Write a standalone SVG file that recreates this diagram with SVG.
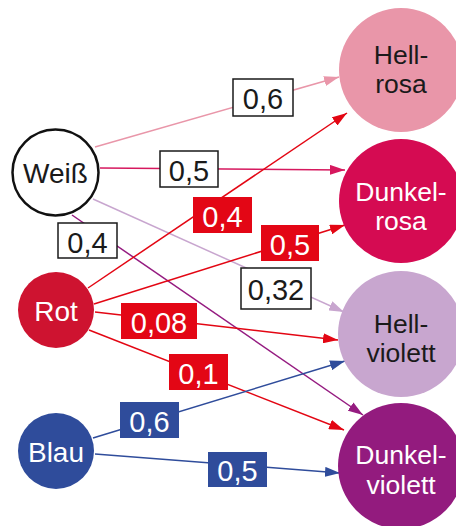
<svg xmlns="http://www.w3.org/2000/svg" width="456" height="526" viewBox="0 0 456 526">
<style>
text{font-family:"Liberation Sans",Arial,Helvetica,sans-serif;text-anchor:middle}
.nl{font-size:28px}
.nr{font-size:26.5px}
.lb{font-size:29px}
.ln{fill:none;stroke-width:1.5}
.wb{fill:#fff;stroke:#1a1a1a;stroke-width:1.5}
.rb{fill:#E30615}
.bb{fill:#2F4C9B}
.blk{fill:#1a1a1a}
.wht{fill:#fff}
</style>
<defs>
<marker id="aHR" viewBox="0 0 15 10" refX="15" refY="5" markerWidth="15" markerHeight="10" markerUnits="userSpaceOnUse" orient="auto"><path d="M0,0L15,5L0,10z" fill="#E996A9"/></marker>
<marker id="aDR" viewBox="0 0 15 10" refX="15" refY="5" markerWidth="15" markerHeight="10" markerUnits="userSpaceOnUse" orient="auto"><path d="M0,0L15,5L0,10z" fill="#D6185E"/></marker>
<marker id="aHV" viewBox="0 0 15 10" refX="15" refY="5" markerWidth="15" markerHeight="10" markerUnits="userSpaceOnUse" orient="auto"><path d="M0,0L15,5L0,10z" fill="#C8A6CF"/></marker>
<marker id="aDV" viewBox="0 0 15 10" refX="15" refY="5" markerWidth="15" markerHeight="10" markerUnits="userSpaceOnUse" orient="auto"><path d="M0,0L15,5L0,10z" fill="#951B80"/></marker>
<marker id="aR" viewBox="0 0 15 10" refX="15" refY="5" markerWidth="15" markerHeight="10" markerUnits="userSpaceOnUse" orient="auto"><path d="M0,0L15,5L0,10z" fill="#E30613"/></marker>
<marker id="aB" viewBox="0 0 15 10" refX="15" refY="5" markerWidth="15" markerHeight="10" markerUnits="userSpaceOnUse" orient="auto"><path d="M0,0L15,5L0,10z" fill="#2F4C9B"/></marker>
</defs>
<rect width="456" height="526" fill="#fff"/>
<g id="connectors">
<path class="ln" d="M95,147L339,77" stroke="#E996A9" marker-end="url(#aHR)"/>
<path class="ln" d="M100,168L345,170" stroke="#D6185E" marker-end="url(#aDR)"/>
<path class="ln" d="M93,199L344,312" stroke="#C8A6CF" marker-end="url(#aHV)"/>
<path class="ln" d="M72,215L363,415" stroke="#951B80" marker-end="url(#aDV)"/>
<path class="ln" d="M88,288L347,113" stroke="#E30613" marker-end="url(#aR)"/>
<path class="ln" d="M94,304L345,225" stroke="#E30613" marker-end="url(#aR)"/>
<path class="ln" d="M95,312L338,340" stroke="#E30613" marker-end="url(#aR)"/>
<path class="ln" d="M89,330L344,430" stroke="#E30613" marker-end="url(#aR)"/>
<path class="ln" d="M93,438L345,361" stroke="#2F4C9B" marker-end="url(#aB)"/>
<path class="ln" d="M95,454L340,473" stroke="#2F4C9B" marker-end="url(#aB)"/>
<g id="labels">
<rect class="wb" x="233" y="79" width="60" height="37"/><text class="lb blk" x="263" y="109">0,6</text>
<rect class="wb" x="160" y="151" width="58" height="36"/><text class="lb blk" x="189" y="181">0,5</text>
<rect class="wb" x="58" y="223" width="59" height="35"/><text class="lb blk" x="87.5" y="253">0,4</text>
<rect class="rb" x="193" y="197" width="59" height="36"/><text class="lb wht" x="222.5" y="227">0,4</text>
<rect class="rb" x="261" y="225" width="58" height="36"/><text class="lb wht" x="290" y="255">0,5</text>
<rect class="wb" x="241" y="268" width="70" height="41"/><text class="lb blk" x="276" y="300">0,32</text>
<rect class="rb" x="121" y="303" width="76" height="36"/><text class="lb wht" x="159" y="333">0,08</text>
<rect class="rb" x="169" y="354" width="59" height="36"/><text class="lb wht" x="198.5" y="384">0,1</text>
<rect class="bb" x="120" y="402" width="59" height="36"/><text class="lb wht" x="149.5" y="432">0,6</text>
<rect class="bb" x="208" y="452" width="59" height="35"/><text class="lb wht" x="237.5" y="481">0,5</text>
</g>
</g>
<g id="weiss"><circle cx="55.5" cy="172.5" r="43" fill="#fff" stroke="#111" stroke-width="2.5"/><text class="nl blk" x="55.5" y="183">Weiß</text></g>
<g id="rot"><circle cx="56" cy="310" r="38" fill="#CE1330"/><text class="nl wht" x="56" y="321">Rot</text></g>
<g id="blau"><circle cx="56" cy="451" r="38" fill="#2F4C9B"/><text class="nl wht" x="56" y="462">Blau</text></g>
<g id="hellrosa"><circle cx="401" cy="70" r="62" fill="#E996A9"/><text class="nr blk" x="401" y="64">Hell-</text><text class="nr blk" x="401" y="93">rosa</text></g>
<g id="dunkelrosa"><circle cx="401" cy="201" r="62" fill="#D50B52"/><text class="nr wht" x="401" y="201">Dunkel-</text><text class="nr wht" x="401" y="230">rosa</text></g>
<g id="hellviolett"><circle cx="401" cy="334" r="63" fill="#C8A6CF"/><text class="nr blk" x="401" y="333">Hell-</text><text class="nr blk" x="401" y="362">violett</text></g>
<g id="dunkelviolett"><circle cx="401" cy="466" r="63" fill="#931B7E"/><text class="nr wht" x="401" y="464">Dunkel-</text><text class="nr wht" x="401" y="494">violett</text></g>
</svg>
